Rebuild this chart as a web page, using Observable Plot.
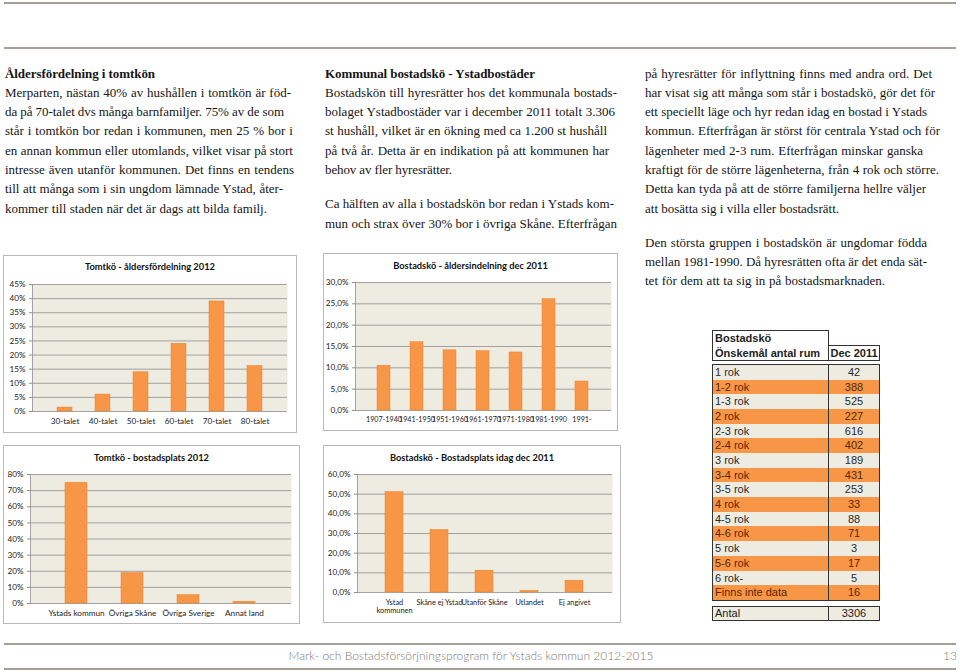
<!DOCTYPE html>
<html>
<head>
<meta charset="utf-8">
<script src="https://cdn.jsdelivr.net/npm/d3@7"></script>
<script src="https://cdn.jsdelivr.net/npm/@observablehq/plot@0.6"></script>
<style>
  html, body { margin: 0; padding: 0; background: #fff; }
  #page { position: relative; width: 960px; height: 672px; overflow: hidden; background: #fff; }
  .hline { position: absolute; left: 4px; width: 952px; height: 2px; background: #a59f96; }
  .col { position: absolute; font-family: "Liberation Serif", "DejaVu Serif", serif; font-size: 13px; line-height: 19.3px; color: #151515; }
  .ln { white-space: nowrap; display: block; text-align: justify; text-align-last: justify; }
  .ln.bold { font-weight: bold; }
  .gap { height: 15px; }
  .chart { position: absolute; border: 1px solid #b9b9b9; box-sizing: border-box; background: #fff; }
  .chart svg { display: block; }
  .ctitle { position: absolute; left: 0; right: 0; text-align: center; font-family: Lato, "Open Sans", sans-serif; font-weight: bold; font-size: 9.3px; color: #111; }
  .tb { position: absolute; font-family: "Liberation Sans", Arial, sans-serif; font-size: 11px; color: #222; }
  .box { position: absolute; border: 1px solid #333; box-sizing: border-box; }
  #footer { position: absolute; top: 648px; left: 0; width: 942px; text-align: center; font-family: Lato, "Open Sans", sans-serif; font-weight: 300; font-size: 12px; color: #7f7a74; }
  #pageno { position: absolute; top: 648px; left: 943px; font-family: Lato, sans-serif; font-weight: 300; font-size: 12px; color: #7f7a74; }
</style>
</head>
<body>
<div id="page"></div>
<script>
// ---------- data ----------
const ageCats = ["30-talet", "40-talet", "50-talet", "60-talet", "70-talet", "80-talet"];
const ageVals = [1.4, 6, 13.9, 24, 39, 16.1];

const placeCats = ["Ystads kommun", "Övriga Skåne", "Övriga Sverige", "Annat land"];
const placeVals = [74.9, 18.9, 5.2, 1.1];

const queueAgeCats = ["1907-1940", "1941-1950", "1951-1960", "1961-1970", "1971-1980", "1981-1990", "1991-"];
const queueAgeVals = [10.5, 16.0, 14.1, 13.9, 13.6, 26.1, 6.8];

const queuePlaceCats = ["Ystad\nkommunen", "Skåne ej Ystad", "Utanför Skåne", "Utlandet", "Ej angivet"];
const queuePlaceVals = [51.0, 31.8, 11.1, 0.8, 6.0];

const roomCats = ["1 rok", "1-2 rok", "1-3 rok", "2 rok", "2-3 rok", "2-4 rok", "3 rok", "3-4 rok", "3-5 rok", "4 rok", "4-5 rok", "4-6 rok", "5 rok", "5-6 rok", "6 rok-", "Finns inte data"];
const roomVals = [42, 388, 525, 227, 616, 402, 189, 431, 253, 33, 88, 71, 3, 17, 5, 16];
const roomTotal = 3306;

const leftLines = [
  "#Åldersfördelning i tomtkön",
  "Merparten, nästan 40% av hushållen i tomtkön är föd-",
  "da på 70-talet dvs många barnfamiljer. 75% av de som",
  "står i tomtkön bor redan i kommunen, men 25 % bor i",
  "en annan kommun eller utomlands, vilket visar på stort",
  "intresse även utanför kommunen. Det finns en tendens",
  "till att många som i sin ungdom lämnade Ystad, åter-",
  "kommer till staden när det är dags att bilda familj."
];
const leftEnds = [155, 291, 284, 293, 293, 294, 283, 267];
const midLines = [
  "#Kommunal bostadskö - Ystadbostäder",
  "Bostadskön till hyresrätter hos det kommunala bostads-",
  "bolaget Ystadbostäder var i december 2011 totalt 3.306",
  "st hushåll, vilket är en ökning med ca 1.200 st hushåll",
  "på två år. Detta är en indikation på att kommunen har",
  "behov av fler hyresrätter.",
  "",
  "Ca hälften av alla i bostadskön bor redan i Ystads kom-",
  "mun och strax över 30% bor i övriga Skåne. Efterfrågan"
];
const midEnds = [535, 617, 615, 607, 609, 452, 0, 614, 617];
const rightLines = [
  "på hyresrätter för inflyttning finns med andra ord. Det",
  "har visat sig att många som står i bostadskö, gör det för",
  "ett speciellt läge och hyr redan idag en bostad i Ystads",
  "kommun. Efterfrågan är störst för centrala Ystad och för",
  "lägenheter med 2-3 rum. Efterfrågan minskar ganska",
  "kraftigt för de större lägenheterna, från 4 rok och större.",
  "Detta kan tyda på att de större familjerna hellre väljer",
  "att bosätta sig i villa eller bostadsrätt.",
  "",
  "Den största gruppen i bostadskön är ungdomar födda",
  "mellan 1981-1990. Då hyresrätten ofta är det enda sät-",
  "tet för dem att ta sig in på bostadsmarknaden."
];
const rightEnds = [932, 935, 927, 940, 923, 939, 926, 839, 0, 927, 927, 885];

// ---------- page ----------
const page = document.getElementById("page");
function add(tag, cls, css, text) {
  const el = document.createElement(tag);
  if (cls) el.className = cls;
  Object.assign(el.style, css || {});
  if (text != null) el.textContent = text;
  page.appendChild(el);
  return el;
}
[2, 47, 643, 668].forEach(y => add("div", "hline", {top: y + "px"}));

function column(lines, ends, left) {
  const col = add("div", "col", {left: left + "px", top: "63.5px", width: "320px"});
  lines.forEach((t, i) => {
    if (t === "") { const g = document.createElement("div"); g.className = "gap"; col.appendChild(g); return; }
    const d = document.createElement("div");
    d.className = "ln";
    const bold = t.startsWith("#");
    if (bold) d.classList.add("bold");
    const s = document.createElement("span");
    s.textContent = bold ? t.slice(1) : t;
    d.style.textAlignLast = "left";
    d.appendChild(s);
    col.appendChild(d);
    const target = ends[i] - left;
    const w = s.getBoundingClientRect().width;
    const n = s.textContent.length;
    if (w > target) d.style.letterSpacing = ((target - w) / n) + "px";
    d.style.width = target + "px";
    d.style.textAlignLast = "justify";
  });
}
column(leftLines, leftEnds, 5);
column(midLines, midEnds, 325);
column(rightLines, rightEnds, 645);

// ---------- charts ----------
function barChart({cats, vals, left, top, w, h, mL, mR, mT, mB, max, step, fmt, title, titleY, xFont}) {
  const box = add("div", "chart", {left: left + "px", top: top + "px", width: w + "px", height: h + "px"});
  const data = cats.map((c, i) => ({cat: c, val: vals[i]}));
  const ticks = d3.range(0, max + step / 2, step);
  const plot = Plot.plot({
    width: w - 2, height: h - 2,
    marginLeft: mL, marginRight: mR, marginTop: mT, marginBottom: mB,
    style: {fontFamily: "Lato, 'Open Sans', sans-serif", fontSize: "8.2px", color: "#222", background: "transparent", overflow: "visible"},
    x: {domain: cats, padding: 0.6, label: null},
    y: {domain: [0, max], label: null},
    marks: [
      Plot.frame({fill: "#EEECE1"}),
      Plot.ruleY(ticks, {stroke: "#8e8e8e", strokeWidth: 0.8}),
      Plot.barY(data, {x: "cat", y: "val", fill: "#F79646", stroke: "#e8822f", strokeWidth: 0.5}),
      Plot.frame({anchor: "left", stroke: "#8e8e8e", strokeWidth: 0.8}),
      Plot.axisY({ticks: ticks, tickFormat: fmt, tickSize: 3, tickPadding: 4, stroke: "#8e8e8e", fill: "#222"}),
      Plot.axisX({tickSize: 0, tickPadding: 6, fill: "#222", lineHeight: 1.15, fontSize: xFont || 8.2})
    ]
  });
  box.appendChild(plot);
  const t = document.createElement("div");
  t.className = "ctitle";
  t.style.top = (titleY - top - 7) + "px";
  t.textContent = title;
  box.appendChild(t);
}
const pct = d => d + "%";
const pct1 = d => d.toFixed(1).replace(".", ",") + "%";

barChart({cats: ageCats, vals: ageVals, left: 3, top: 255, w: 294, h: 178, mL: 28, mR: 9, mT: 28, mB: 21, max: 45, step: 5, fmt: pct, title: "Tomtkö - åldersfördelning 2012", titleY: 267});
barChart({cats: placeCats, vals: placeVals, left: 3, top: 445, w: 297, h: 179, mL: 26, mR: 8, mT: 28, mB: 20, max: 80, step: 10, fmt: pct, title: "Tomtkö - bostadsplats 2012", titleY: 458});
barChart({cats: queueAgeCats, vals: queueAgeVals, left: 323, top: 253, w: 295, h: 178, mL: 31, mR: 6, mT: 28, mB: 20, max: 30, step: 5, fmt: pct1, title: "Bostadskö - åldersindelning dec 2011", titleY: 266, xFont: 7.2});
barChart({cats: queuePlaceCats, vals: queuePlaceVals, left: 323, top: 445, w: 298, h: 178, mL: 33, mR: 8, mT: 28, mB: 30, max: 60, step: 10, fmt: pct1, title: "Bostadskö - Bostadsplats idag dec 2011", titleY: 458, xFont: 7.4});

// ---------- table ----------
const tX = 712, c1 = 116, c2 = 52, rowH = 14.68, dataTop = 365;
add("div", "box", {left: tX + "px", top: "330px", width: c1 + 1 + "px", height: "31px", background: "#fff"});
add("div", "box", {left: tX + c1 + "px", top: "345px", width: c2 + "px", height: "16px", background: "#fff"});
add("div", "tb", {left: tX + 3 + "px", top: "331px", fontWeight: "bold", lineHeight: "14px"}, "Bostadskö");
add("div", "tb", {left: tX + 3 + "px", top: "346px", fontWeight: "bold", lineHeight: "14px"}, "Önskemål antal rum");
add("div", "tb", {left: tX + c1 + "px", top: "346px", width: c2 + "px", textAlign: "center", fontWeight: "bold", lineHeight: "14px"}, "Dec 2011");
roomCats.forEach((c, i) => {
  const y = dataTop + i * rowH;
  const orange = i % 2 === 1;
  const bg = orange ? "#F79646" : "#EEECE1";
  const col = orange ? "#5c2500" : "#2a2a2a";
  add("div", "tb", {left: tX + "px", top: y + "px", width: c1 + c2 + "px", height: rowH + 0.4 + "px", background: bg});
  add("div", "tb", {left: tX + 3 + "px", top: y + "px", lineHeight: rowH + "px", color: col}, c);
  add("div", "tb", {left: tX + c1 + "px", top: y + "px", width: c2 + "px", textAlign: "center", lineHeight: rowH + "px", color: col}, String(roomVals[i]));
});
const dataH = roomCats.length * rowH;
add("div", "box", {left: tX + "px", top: dataTop - 1 + "px", width: c1 + c2 + "px", height: dataH + 2 + "px"});
add("div", "", {position: "absolute", left: tX + c1 + "px", top: dataTop + "px", width: "1px", height: dataH + "px", background: "#333"});
const aTop = dataTop + dataH + 6;
add("div", "tb", {left: tX + "px", top: aTop + "px", width: c1 + c2 + "px", height: "15px", background: "#EEECE1"});
add("div", "box", {left: tX + "px", top: aTop + "px", width: c1 + c2 + "px", height: "15px"});
add("div", "", {position: "absolute", left: tX + c1 + "px", top: aTop + "px", width: "1px", height: "15px", background: "#333"});
add("div", "tb", {left: tX + 3 + "px", top: aTop + "px", lineHeight: "15px"}, "Antal");
add("div", "tb", {left: tX + c1 + "px", top: aTop + "px", width: c2 + "px", textAlign: "center", lineHeight: "15px"}, String(roomTotal));

// ---------- footer ----------
add("div", "", {}, "Mark- och Bostadsförsörjningsprogram för Ystads kommun 2012-2015").id = "footer";
add("div", "", {}, "13").id = "pageno";
</script>
</body>
</html>
